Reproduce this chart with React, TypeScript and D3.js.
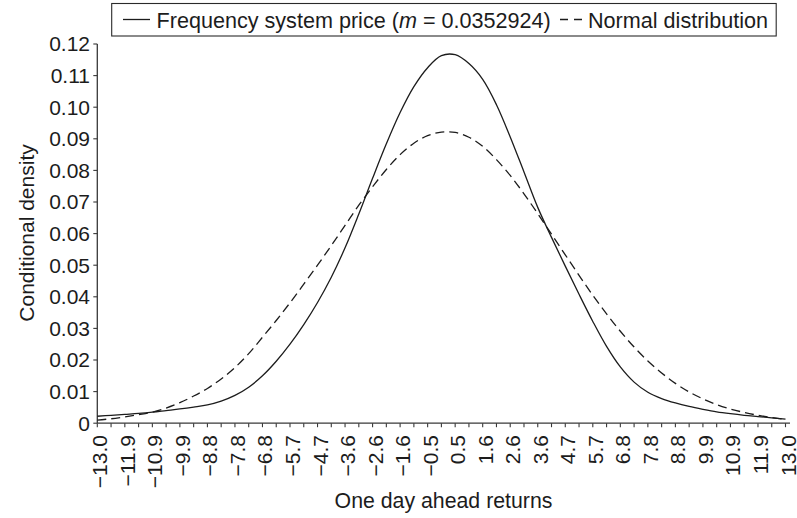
import React from "react";
import * as d3 from "d3";

// One-day-ahead return grid (half-label steps) and the two density estimates
const returns = [
  -13.0, -12.48, -11.96, -11.44, -10.92, -10.4, -9.88, -9.36, -8.84, -8.32,
  -7.8, -7.28, -6.76, -6.24, -5.72, -5.2, -4.68, -4.16, -3.64, -3.12,
  -2.6, -2.08, -1.56, -1.04, -0.52, 0.0, 0.52, 1.04, 1.56, 2.08,
  2.6, 3.12, 3.64, 4.16, 4.68, 5.2, 5.72, 6.24, 6.76, 7.28,
  7.8, 8.32, 8.84, 9.36, 9.88, 10.4, 10.92, 11.44, 11.96, 12.48, 13.0,
];

const frequencySystemPrice = [
  0.0022, 0.0025, 0.0028, 0.0031, 0.0035, 0.004, 0.0045, 0.0051, 0.0058, 0.007,
  0.0088, 0.0114, 0.015, 0.0196, 0.025, 0.0312, 0.0382, 0.0462, 0.0555, 0.0662,
  0.0775, 0.0884, 0.0983, 0.1065, 0.1125, 0.1163, 0.1166, 0.1138, 0.1088, 0.1008,
  0.0906, 0.0795, 0.0683, 0.0588, 0.0497, 0.0408, 0.0322, 0.0243, 0.0178, 0.013,
  0.0098, 0.0078, 0.0064, 0.0053, 0.0044, 0.0036, 0.003, 0.0025, 0.0021, 0.0017, 0.0013,
];

const normalDistribution = [
  0.001, 0.0014, 0.002, 0.0027, 0.0035, 0.0048, 0.0065, 0.0086, 0.011, 0.014,
  0.0176, 0.022, 0.0272, 0.0325, 0.0381, 0.044, 0.05, 0.0562, 0.0626, 0.069,
  0.0748, 0.0803, 0.085, 0.0886, 0.091, 0.0921, 0.092, 0.0905, 0.0876, 0.0834,
  0.0784, 0.0726, 0.0663, 0.0598, 0.0533, 0.0468, 0.0405, 0.0346, 0.0291, 0.0241,
  0.0197, 0.0159, 0.0126, 0.0099, 0.0077, 0.0059, 0.0045, 0.0034, 0.0025, 0.0018, 0.0012,
];

const xTickLabels = [
  "−13.0", "−11.9", "−10.9", "−9.9", "−8.8", "−7.8", "−6.8", "−5.7", "−4.7",
  "−3.6", "−2.6", "−1.6", "−0.5", "0.5", "1.6", "2.6", "3.6", "4.7", "5.7",
  "6.8", "7.8", "8.8", "9.9", "10.9", "11.9", "13.0",
];

const yTicks = [0, 0.01, 0.02, 0.03, 0.04, 0.05, 0.06, 0.07, 0.08, 0.09, 0.1, 0.11, 0.12];
const yTickLabels = ["0", "0.01", "0.02", "0.03", "0.04", "0.05", "0.06", "0.07", "0.08", "0.09", "0.10", "0.11", "0.12"];

const FONT = "'Liberation Sans', Arial, Helvetica, sans-serif";
const INK = "#1c1c1c";
const AXIS = "#383838";

export default function App() {
  const W = 797;
  const H = 518;
  const x0 = 97.3;
  const x1 = 785.5;
  const yBase = 423.2;
  const yTop = 44;

  const x = d3.scaleLinear().domain([-13, 13]).range([x0, x1]);
  const y = d3.scaleLinear().domain([0, 0.12]).range([yBase, yTop]);

  const line = d3
    .line<number>()
    .x((_, i) => x(returns[i]))
    .y((d) => y(d))
    .curve(d3.curveCatmullRom.alpha(0.5));

  const fs = 21;
  const legendFs = 21.6;

  return (
    <svg
      width={W}
      height={H}
      viewBox={`0 0 ${W} ${H}`}
      style={{ position: "absolute", left: 0, top: 0, background: "#fff" }}
      fontFamily={FONT}
    >
      <rect width={W} height={H} fill="#fff" />

      {/* legend */}
      <g>
        <rect x={111.7} y={3.5} width={664.5} height={32.5} fill="#fff" stroke="#2a2a2a" strokeWidth={1.1} />
        <line x1={123} x2={150} y1={19.5} y2={19.5} stroke={INK} strokeWidth={1.3} />
        <text x={156.5} y={27.5} fontSize={legendFs} fill={INK}>
          Frequency system price (<tspan fontStyle="italic">m</tspan> = 0.0352924)
        </text>
        <line x1={560} x2={582} y1={19.5} y2={19.5} stroke={INK} strokeWidth={1.3} strokeDasharray="8,6" />
        <text x={768} y={27.5} fontSize={legendFs} fill={INK} textAnchor="end">
          Normal distribution
        </text>
      </g>

      {/* y axis */}
      <line x1={x0} x2={x0} y1={yTop} y2={yBase} stroke={AXIS} strokeWidth={1.3} />
      {yTicks.map((t, i) => (
        <g key={`y${i}`}>
          <line x1={x0 - 4} x2={x0} y1={y(t)} y2={y(t)} stroke={AXIS} strokeWidth={1.1} />
          <text x={90} y={y(t) + 7.3} fontSize={fs} fill={INK} textAnchor="end">
            {yTickLabels[i]}
          </text>
        </g>
      ))}
      <text
        transform={`translate(33.5, 233) rotate(-90)`}
        fontSize={fs}
        fill={INK}
        textAnchor="middle"
      >
        Conditional density
      </text>

      {/* x axis */}
      <line x1={x0} x2={790} y1={yBase} y2={yBase} stroke={AXIS} strokeWidth={1.3} />
      {returns.map((r, i) => (
        <line key={`xt${i}`} x1={x(r)} x2={x(r)} y1={yBase} y2={yBase + 4} stroke={AXIS} strokeWidth={1.1} />
      ))}
      {xTickLabels.map((lab, k) => {
        const px = x(returns[k * 2]);
        return (
          <text
            key={`xl${k}`}
            transform={`translate(${px}, 435) rotate(-90)`}
            dy={10}
            fontSize={fs}
            fill={INK}
            textAnchor="end"
          >
            {lab}
          </text>
        );
      })}
      <text x={443.5} y={508} fontSize={21.3} fill={INK} textAnchor="middle">
        One day ahead returns
      </text>

      {/* density curves */}
      <path d={line(normalDistribution) ?? ""} fill="none" stroke={INK} strokeWidth={1.3} strokeDasharray="9,5" />
      <path d={line(frequencySystemPrice) ?? ""} fill="none" stroke={INK} strokeWidth={1.3} />
    </svg>
  );
}
